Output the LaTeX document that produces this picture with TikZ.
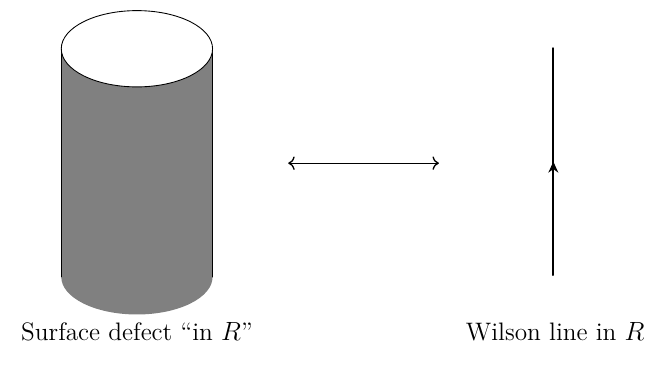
\documentclass[tikz,border=0pt]{standalone}
\usetikzlibrary{arrows.meta,calc,decorations.markings}

\begin{document}
\begin{tikzpicture}[line cap=round,font=\fontsize{11.5}{14}\selectfont]
  \useasboundingbox (0,0) rectangle (10.38,5.87);
  % Surface defect: cylinder
  \coordinate (cyltop) at (2.19,5.09);
  \coordinate (cylbot) at (2.19,1.44);
  \fill[gray] ($(cylbot)+(-1.21,0)$) arc (180:360:1.21 and 0.6) -- ($(cyltop)+(1.21,0)$) -- ($(cyltop)+(-1.21,0)$) -- cycle;
  \draw[thin] ($(cylbot)+(-1.21,0)$) -- ($(cyltop)+(-1.21,0)$);
  \draw[thin] ($(cylbot)+(1.21,0)$) -- ($(cyltop)+(1.21,0)$);
  \draw[thin,fill=white] (cyltop) ellipse (1.21 and 0.61);
  \node[anchor=base] (surflabel) at (2.19,0.43) {Surface defect ``in $R$''};

  % Correspondence arrow
  \coordinate (arrl) at (4.61,3.26);
  \coordinate (arrr) at (7.02,3.26);
  \draw[semithick,<->] (arrl) -- (arrr);

  % Wilson line
  \coordinate (wbot) at (8.85,1.47);
  \coordinate (wtop) at (8.85,5.10);
  \draw[thick,decoration={markings,mark=at position 0.5 with {\arrow{Stealth[length=5pt,width=4.5pt]}}},postaction={decorate}] (wbot) -- (wtop);
  \node[anchor=base] (wilsonlabel) at (8.88,0.43) {Wilson line in $R$};
\end{tikzpicture}
\end{document}
